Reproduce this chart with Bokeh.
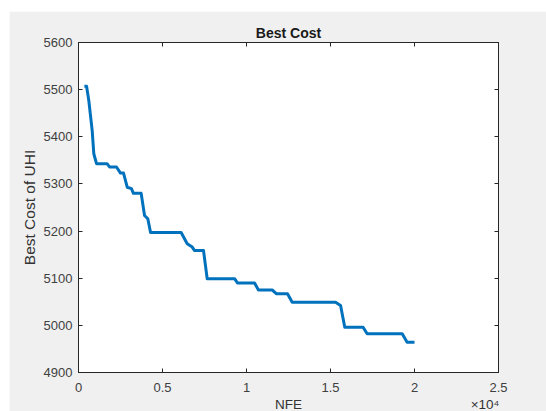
from bokeh.plotting import figure
from bokeh.models import Range1d, LinearAxis, FixedTicker
from bokeh.embed import file_html
from bokeh.resources import INLINE

# data
nfe = [350, 480, 613, 815, 911, 1071, 1700, 1845, 2260, 2500,
       2680, 2900, 3150, 3270, 3730, 3930, 4125, 4290, 6110, 6470,
       6770, 6900, 7440, 7660, 9290, 9460, 10480, 10710, 11530, 11790,
       12440, 12720, 15300, 15600, 15850, 16940, 17180, 19270, 19560, 20000]
best_cost = [5507, 5507, 5477, 5413, 5364, 5343, 5343, 5336, 5336, 5323,
             5323, 5293, 5290, 5280, 5280, 5233, 5226, 5197, 5197, 5173,
             5166, 5159, 5159, 5099, 5099, 5090, 5090, 5075, 5075, 5067,
             5067, 5049, 5049, 5042, 4996, 4996, 4982, 4982, 4964, 4964]
x_ticks = [0, 5000, 10000, 15000, 20000, 25000]
x_tick_labels = ["0", "0.5", "1", "1.5", "2", "2.5"]
y_ticks = [4900, 5000, 5100, 5200, 5300, 5400, 5500, 5600]
x_title = "NFE"
x_exponent = "×10⁴"

AX = "#262626"
FONT = "Liberation Sans"
X0, X1 = 0, 25000

p = figure(width=537, height=400, output_backend="svg", toolbar_location=None,
           x_range=Range1d(X0, X1), y_range=Range1d(4900, 5600),
           frame_width=420, frame_height=330,
           min_border_left=69, min_border_right=48, min_border_top=31, min_border_bottom=39,
           margin=(11, 0, 0, 9))
p.border_fill_color = "#f0f0f0"
p.background_fill_color = "white"
p.outline_line_color = AX
p.outline_line_width = 1
p.xgrid.visible = False
p.ygrid.visible = False

p.title.text = "Best Cost"
p.title.align = "center"
p.title.text_font = FONT
p.title.text_font_size = "14px"
p.title.text_font_style = "bold"
p.title.text_color = "#1a1a1a"
p.title.standoff = 3

def style_axis(ax, labels=True):
    ax.axis_line_color = AX
    ax.major_tick_line_color = AX
    ax.major_tick_in = 4
    ax.major_tick_out = 0
    ax.minor_tick_line_color = None
    ax.major_label_text_font = FONT
    ax.major_label_text_color = "#404040"
    ax.axis_label_text_font = FONT
    ax.axis_label_text_font_style = "normal"
    ax.axis_label_text_color = "#333333"
    if labels:
        ax.major_label_text_font_size = "13px"
        ax.axis_label_text_font_size = "14px"
    else:
        ax.major_label_text_font_size = "0px"
        ax.major_label_standoff = 0

p.xaxis.ticker = FixedTicker(ticks=x_ticks)
p.xaxis.major_label_overrides = dict(zip(x_ticks, x_tick_labels))
p.yaxis.ticker = FixedTicker(ticks=y_ticks)
p.yaxis.axis_label = "Best Cost of UHI"
style_axis(p.xaxis[0])
style_axis(p.yaxis[0])
p.yaxis.axis_label_text_font_size = "15.5px"
p.xaxis.major_label_standoff = 10
p.yaxis.major_label_standoff = 6
p.yaxis.axis_label_standoff = 3

# second row under the tick labels: axis title (centred) and exponent (right)
title_pos = (X0 + X1) / 2
exp_pos = X1 - 0.032 * (X1 - X0)
title_axis = LinearAxis(ticker=FixedTicker(ticks=[title_pos, exp_pos]))
title_axis.major_label_overrides = {title_pos: x_title, exp_pos: x_exponent}
title_axis.axis_line_color = None
title_axis.major_tick_line_color = None
title_axis.minor_tick_line_color = None
title_axis.major_tick_in = 0
title_axis.major_tick_out = 0
title_axis.major_label_standoff = 2
title_axis.major_label_text_font = FONT
title_axis.major_label_text_font_size = "13.5px"
title_axis.major_label_text_color = "#333333"
p.add_layout(title_axis, "below")

top = LinearAxis(ticker=FixedTicker(ticks=x_ticks))
style_axis(top, labels=False)
top.major_label_overrides = {t: "" for t in x_ticks}
p.add_layout(top, "above")
right = LinearAxis(ticker=FixedTicker(ticks=y_ticks))
style_axis(right, labels=False)
right.major_label_overrides = {t: "" for t in y_ticks}
p.add_layout(right, "right")

p.line(nfe, best_cost, line_color="#0072BD", line_width=3, line_join="round")

open("out.html", "w").write(file_html(p, INLINE))
